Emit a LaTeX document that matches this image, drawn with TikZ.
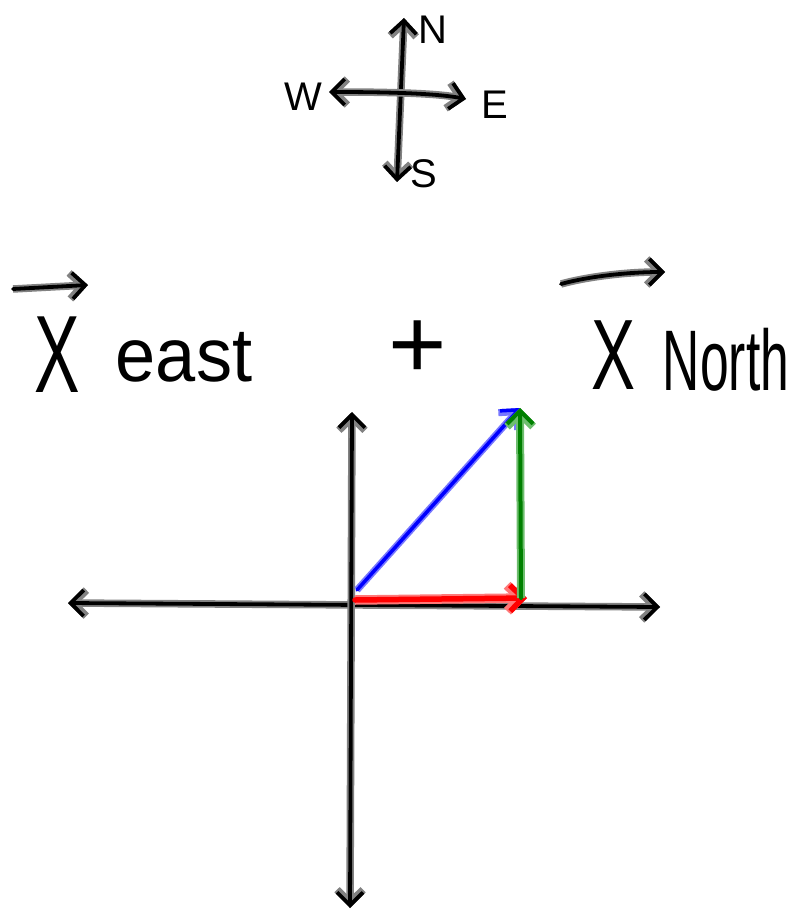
\documentclass[tikz,border=0pt]{standalone}
\usepackage{fontspec}
\setmainfont{Liberation Sans}
\usetikzlibrary{arrows.meta}
\definecolor{haloK}{RGB}{130,130,130}
\definecolor{inkB}{RGB}{0,0,255}
\definecolor{haloB}{RGB}{120,120,255}
\definecolor{inkG}{RGB}{0,128,0}
\definecolor{haloG}{RGB}{110,190,110}
\definecolor{inkR}{RGB}{255,0,0}
\definecolor{haloR}{RGB}{255,120,120}
\tikzset{
  tip/.style={arrows={-Straight Barb[length=13pt,width=26pt]}},
  bothtips/.style={arrows={Straight Barb[length=13pt,width=26pt]-Straight Barb[length=13pt,width=26pt]}},
  ink/.style={draw=black, line width=3.8pt, line cap=round, line join=round,
    preaction={draw=haloK, line width=7.5pt}},
  inkblue/.style={draw=inkB, line width=3.5pt, line cap=round, line join=round,
    preaction={draw=haloB, line width=7pt}},
  inkgreen/.style={draw=inkG, line width=4pt, line cap=round, line join=round,
    preaction={draw=haloG, line width=8pt}},
  inkred/.style={draw=inkR, line width=5.5pt, line cap=round, line join=round,
    preaction={draw=haloR, line width=9.5pt}},
  lbl/.style={inner sep=0pt, text=black},
}
\begin{document}
\begin{tikzpicture}[x=1pt,y=-1pt]
\useasboundingbox (0,0) rectangle (789,912);
% compass
\coordinate (cN) at (404,18);
\coordinate (cS) at (397,182);
\coordinate (cW) at (329,92);
\coordinate (cE) at (466,99);
\draw[ink,bothtips] (cS) -- (cN);
\draw[ink,bothtips] (cW) .. controls (400,92) and (440,94) .. (cE);
\node[lbl] (lN) at (433,30) {\fontsize{40}{40}\selectfont N};
\node[lbl] (lW) at (303,97) {\fontsize{40}{40}\selectfont W};
\node[lbl] (lE) at (495,105) {\fontsize{40}{40}\selectfont E};
\node[lbl] (lS) at (424,174) {\fontsize{40}{40}\selectfont S};
% labels
\node[lbl] (xe) at (57,355) {\scalebox{0.62}[1]{\fontsize{110}{110}\selectfont X}};
\node[lbl] (east) at (184,357) {\scalebox{0.95}[1]{\fontsize{76}{76}\selectfont east}};
\node[lbl] (plus) at (418,350) {\fontsize{100}{100}\selectfont +};
\node[lbl] (xn) at (614,355) {\scalebox{0.66}[1]{\fontsize{100}{100}\selectfont X}};
\node[lbl] (north) at (726,360) {\scalebox{0.6}[1]{\fontsize{86}{86}\selectfont North}};
\coordinate (aeS) at (13,289);
\coordinate (aeE) at (88,285);
\coordinate (anS) at (561,284);
\coordinate (anE) at (665,272);
\draw[ink,tip] (aeS) -- (aeE);
\draw[ink,tip] (anS) .. controls (590,276) and (630,272) .. (anE);
% axes
\coordinate (O) at (353,601);
\coordinate (axL) at (68,603);
\coordinate (axR) at (660,607);
\coordinate (ayT) at (352,412);
\coordinate (ayB) at (350,908);
\draw[ink,bothtips] (axL) -- (axR);
\draw[ink,bothtips] (ayB) -- (ayT);
% vectors
\coordinate (vB0) at (357,590);
\coordinate (vTip) at (520,408);
\coordinate (vR0) at (355,600);
\coordinate (vRE) at (527,598);
\coordinate (vG0) at (521,598);
\draw[inkblue,tip] (vB0) -- (vTip);
\draw[inkred,tip] (vR0) -- (vRE);
\draw[inkgreen,tip] (vG0) -- (vTip);
\end{tikzpicture}
\end{document}
